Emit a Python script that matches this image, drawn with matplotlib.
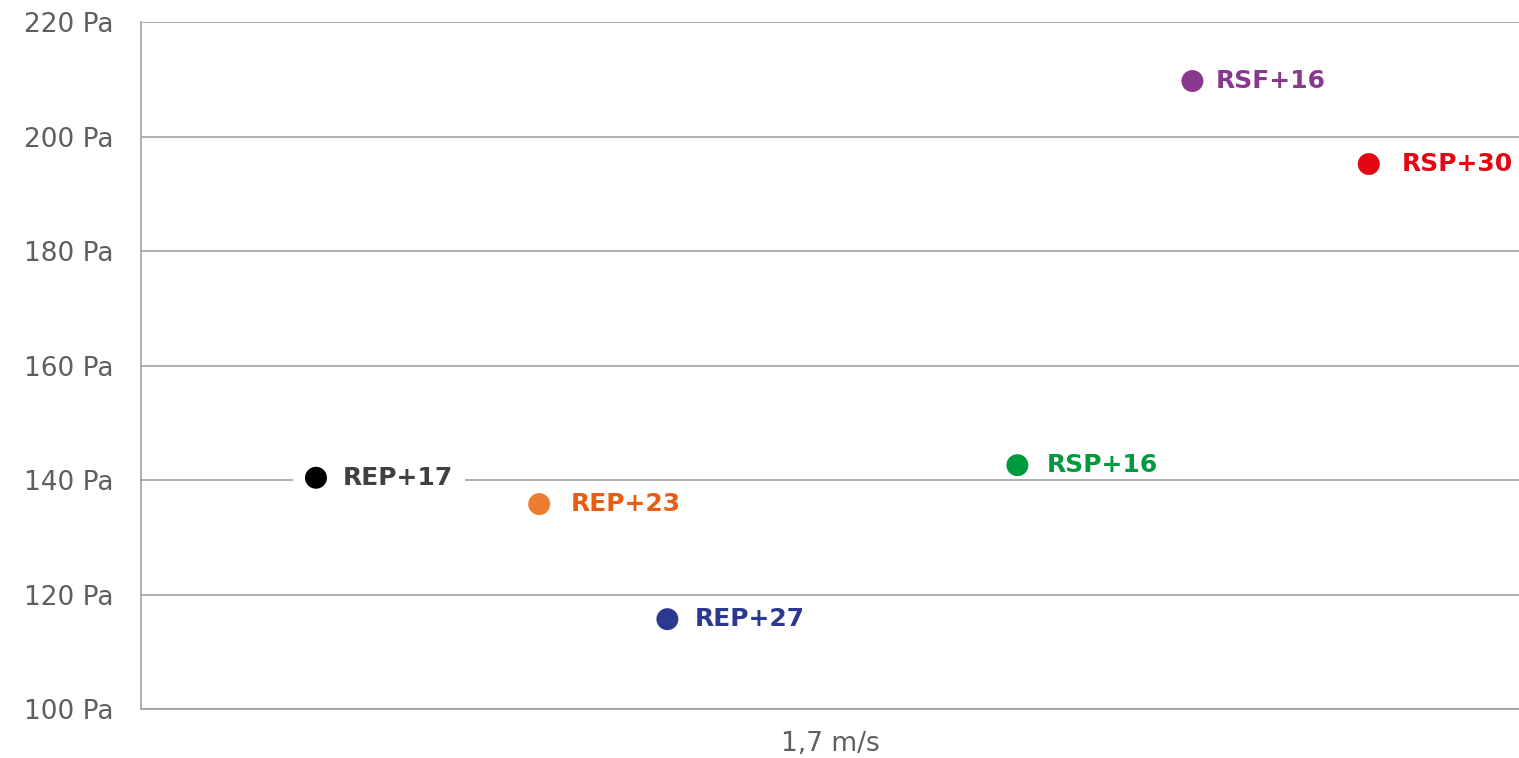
import matplotlib.pyplot as plt
from matplotlib.patches import Rectangle

# data
names = ['REP+17', 'REP+23', 'REP+27', 'RSP+16', 'RSF+16', 'RSP+30']
pressure = [140.4, 135.8, 115.7, 142.6, 209.7, 195.2]
# horizontal spread of the points around the single 1,7 m/s category
offset = [-0.373, -0.211, -0.118, 0.136, 0.263, 0.391]
category = '1,7 m/s'
yticks = [100, 120, 140, 160, 180, 200, 220]

dot_colors = ['#000000', '#ED7D31', '#2B3990', '#009A3E', '#873A8D', '#E30613']
text_colors = ['#404040', '#E85D12', '#2B3990', '#009A3E', '#873A8D', '#E30613']
label_dx = [19, 23, 20, 21, 17, 24]  # points

fig = plt.figure(figsize=(15.19, 7.58), dpi=100)
ax = fig.add_axes([0.0928, 0.0646, 0.9072, 0.9063])

ax.scatter(offset, pressure, s=250, c=dot_colors, zorder=3, linewidths=0)
texts = []
for x, y, name, col, dx in zip(offset, pressure, names, text_colors, label_dx):
    t = ax.annotate(name, (x, y), xytext=(dx, 0), textcoords='offset points',
                    va='center', ha='left', fontsize=18, fontweight='bold',
                    color=col, family='DejaVu Sans', zorder=4)
    texts.append(t)

ax.set_xlim(-0.5, 0.5)
ax.set_ylim(100, 220)
ax.set_yticks(yticks)
ax.set_yticklabels([f'{v} Pa' for v in yticks])
ax.set_xticks([0])
ax.set_xticklabels([category])
ax.grid(axis='y', color='#9a9a9a', linewidth=1.1, zorder=0)
ax.set_axisbelow(True)
ax.tick_params(axis='y', length=0, labelsize=19, labelcolor='#5f5f5f', pad=84)
ax.tick_params(axis='x', length=0, labelsize=19, labelcolor='#5f5f5f', pad=16)
for lab in ax.get_yticklabels():
    lab.set_horizontalalignment('left')
for s in ['top', 'right']:
    ax.spines[s].set_visible(False)
for s in ['left', 'bottom']:
    ax.spines[s].set_color('#9a9a9a')
    ax.spines[s].set_linewidth(1.1)

# white strip behind each dot + label, as in the original (hides gridline only where it touches)
fig.canvas.draw()
for t, x, y in zip(texts, offset, pressure):
    bb = t.get_window_extent()
    px, py = ax.transData.transform((x, y))
    x0 = px - 11 - 12
    x1 = bb.x1 + 12
    ax.add_patch(Rectangle((x0, py - 10), x1 - x0, 20, transform=None,
                           fc='white', ec='none', zorder=2))

fig.savefig('out.png', dpi=100)
